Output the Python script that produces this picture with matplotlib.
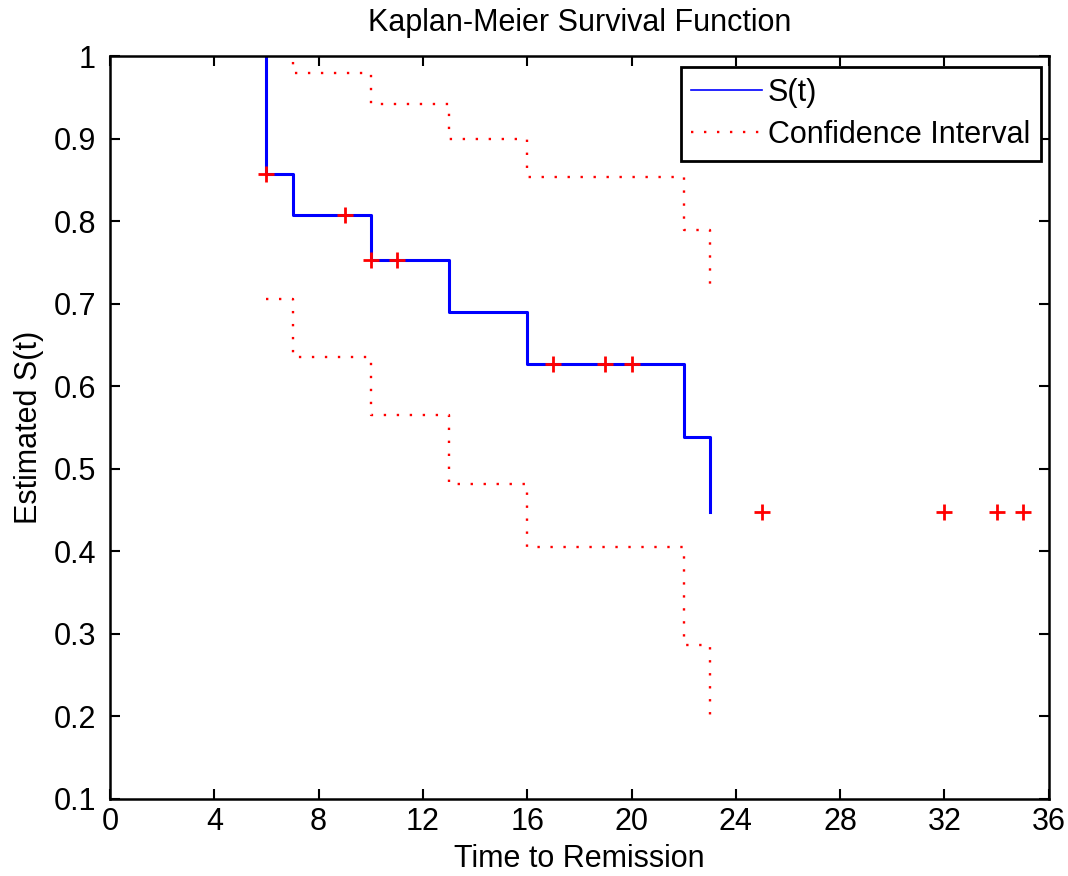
import matplotlib.pyplot as plt
from matplotlib.lines import Line2D

plt.rcParams['font.family'] = ['Liberation Sans', 'DejaVu Sans']

# Kaplan-Meier estimate at each event time
event_times = [6, 7, 10, 13, 16, 22, 23]
surv = [0.857, 0.807, 0.753, 0.690, 0.627, 0.538, 0.448]
ci_upper = [1.007, 0.979, 0.942, 0.900, 0.853, 0.789, 0.713]
ci_lower = [0.706, 0.636, 0.565, 0.481, 0.405, 0.286, 0.192]

# censored observations
censor_times = [6, 9, 10, 11, 17, 19, 20, 25, 32, 34, 35]
censor_surv = [0.857, 0.807, 0.753, 0.753, 0.627, 0.627, 0.627, 0.448, 0.448, 0.448, 0.448]

FS = 22

fig = plt.figure(figsize=(10.68, 8.76), dpi=100)
ax = fig.add_axes([0.103, 0.088, 0.879, 0.848])

dots = (0, (1, 4.5))
ax.step([event_times[0]] + event_times, [1.0] + surv, where='post',
        color='blue', lw=2.2)
ax.step(event_times, ci_upper, where='post', color='red', lw=1.7, linestyle=dots)
ax.step(event_times, ci_lower, where='post', color='red', lw=1.7, linestyle=dots)
ax.plot(censor_times, censor_surv, '+', color='red', ms=12, mew=2, clip_on=False)

ax.set_xlim(0, 36)
ax.set_ylim(0.1, 1)
ax.set_xticks(range(0, 37, 4))
ax.set_yticks([0.1, 0.2, 0.3, 0.4, 0.5, 0.6, 0.7, 0.8, 0.9, 1.0])
ax.set_yticklabels(['0.1', '0.2', '0.3', '0.4', '0.5', '0.6', '0.7', '0.8', '0.9', '1'])
ax.tick_params(direction='in', length=7, width=1.5, top=True, right=True,
               labelsize=FS)
ax.tick_params(axis='x', pad=6)
ax.tick_params(axis='y', pad=10)
for s in ax.spines.values():
    s.set_linewidth(1.8)

ax.set_title('Kaplan-Meier Survival Function', fontsize=FS, pad=18)
ax.set_xlabel('Time to Remission', fontsize=FS, labelpad=5)
ax.set_ylabel('Estimated S(t)', fontsize=FS, labelpad=7)

handles = [Line2D([], [], color='blue', lw=1.2),
           Line2D([], [], color='red', lw=1.7, linestyle=dots)]
leg = ax.legend(handles, ['S(t)', 'Confidence Interval'], loc='upper right',
                fontsize=FS, frameon=True, fancybox=False, handlelength=2.3,
                handletextpad=0.2, borderpad=0.35, labelspacing=0.4,
                borderaxespad=0, bbox_to_anchor=(0.9915, 0.985))
leg.get_frame().set_edgecolor('black')
leg.get_frame().set_linewidth(2)
leg.get_frame().set_alpha(1)

fig.savefig('out.png', dpi=100)
